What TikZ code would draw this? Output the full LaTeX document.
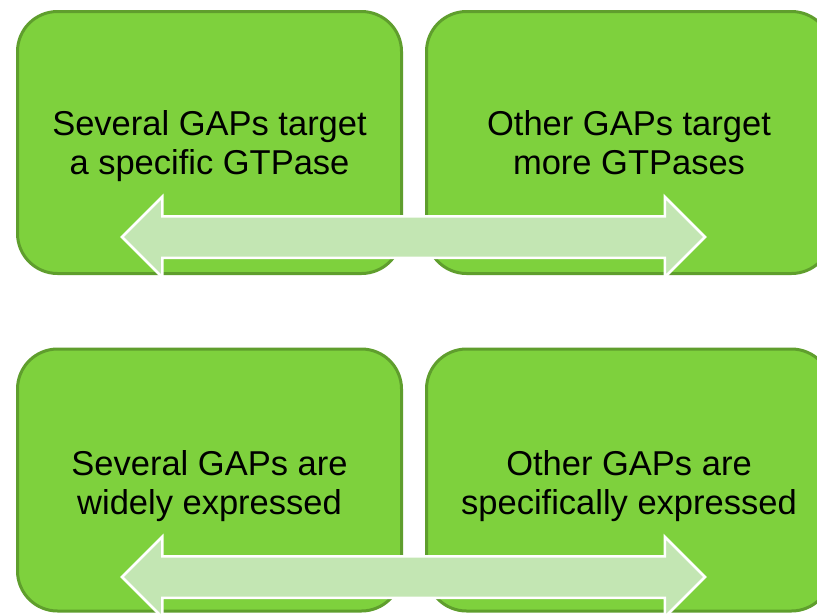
\documentclass[tikz,border=0pt]{standalone}
\usepackage{fontspec}
\setmainfont{Liberation Sans}
\usepackage{tikz}
\usetikzlibrary{shapes,shapes.arrows,positioning,calc}

\definecolor{gapfill}{HTML}{7ED13D}
\definecolor{gapedge}{HTML}{5F9E2D}
\definecolor{arrowfill}{HTML}{C3E6B3}

\tikzset{
  gapbox/.style={rectangle,rounded corners=40pt,fill=gapfill,draw=gapedge,line width=3pt,
    minimum height=262pt},
  gaptext/.style={anchor=base,inner sep=0pt,align=center,font=\fontsize{34.5}{39.5}\selectfont},
  gaparrow/.style={double arrow,fill=arrowfill,draw=white,line width=2.5pt,inner xsep=0pt,
    inner ysep=19.5pt,minimum height=583pt,double arrow head extend=19.5pt}
}

\begin{document}
\begin{tikzpicture}[x=1pt,y=-1pt]
\clip (0,0) rectangle (817,614);
\fill[white] (0,0) rectangle (817,614);
% top row: targets
\node[gapbox,minimum width=384pt] at (209.5,142.5) (tl) {};
\node[gapbox,minimum width=405pt] at (629,142.5) (tr) {};
\node[gaptext] at (tl.center |- 0,174.5) (tltext) {Several GAPs target\\a specific GTPase};
\node[gaptext] at (tr.center |- 0,174.5) (trtext) {Other GAPs target\\more GTPases};
% bottom row: expression
\node[gapbox,minimum width=384pt] at (209.5,480) (bl) {};
\node[gapbox,minimum width=405pt] at (629,480) (br) {};
\node[gaptext] at (bl.center |- 0,514.5) (bltext) {Several GAPs are\\widely expressed};
\node[gaptext] at (br.center |- 0,514.5) (brtext) {Other GAPs are\\specifically expressed};
% double arrows across each row
\node[gaparrow] at (413.5,237) (ta) {};
\node[gaparrow] at (413.5,577) (ba) {};
\end{tikzpicture}
\end{document}
